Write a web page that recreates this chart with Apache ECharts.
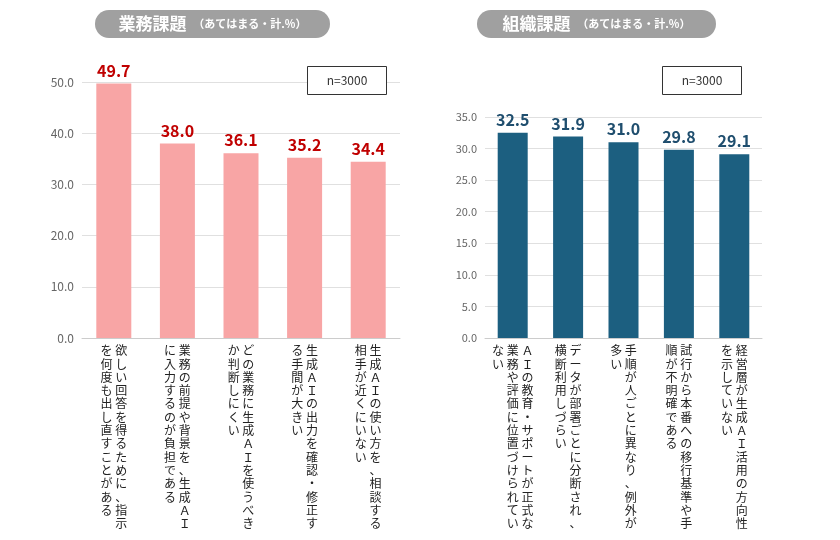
<!DOCTYPE html>
<html lang="ja">
<head>
<meta charset="UTF-8">
<title>業務課題・組織課題</title>
<script src="https://cdn.jsdelivr.net/npm/echarts@6/dist/echarts.min.js"></script>
</head>
<body style="margin:0;background:#fff">
<div id="main" style="width:840px;height:540px;"></div>
<script type="text/javascript">
// データ
var bizCategories = [
    '欲しい回答を得るために、指示を何度も出し直すことがある',
    '業務の前提や背景を、生成ＡＩに入力するのが負担である',
    'どの業務に生成ＡＩを使うべきか判断しにくい',
    '生成ＡＩの出力を確認・修正する手間が大きい',
    '生成ＡＩの使い方を、相談する相手が近くにいない'
];
var bizValues = [49.7, 38.0, 36.1, 35.2, 34.4];
var orgCategories = [
    'ＡＩの教育・サポートが正式な業務や評価に位置づけられていない',
    'データが部署ごとに分断され、横断利用しづらい',
    '手順が人ごとに異なり、例外が多い',
    '試行から本番への移行基準や手順が不明確である',
    '経営層が生成ＡＩ活用の方向性を示していない'
];
var orgValues = [32.5, 31.9, 31.0, 29.8, 29.1];

// 縦書き（右の列から左へ、14文字ずつ）
function tate(s) {
    var chars = Array.from(s), cols = [];
    for (var i = 0; i < chars.length; i += 14) cols.push(chars.slice(i, i + 14));
    var lines = [];
    for (var r = 0; r < 14; r++) {
        var parts = [];
        for (var c = cols.length - 1; c >= 0; c--) parts.push(cols[c][r] || '　');
        lines.push(parts.join(' '));
    }
    return lines.join('\n');
}

var font = '"Noto Sans CJK JP", sans-serif';
var myChart = echarts.init(document.getElementById('main'));

function pill(x, w, title) {
    return {
        type: 'group', left: x, top: 10, z: 100,
        children: [
            { type: 'rect', shape: { x: 0, y: 0, width: w, height: 28, r: 14 }, style: { fill: '#a0a0a0' } },
            { type: 'text', x: w / 2, y: 14, style: {
                text: '{a|' + title + '}  {b|（あてはまる・計.%）}',
                align: 'center', verticalAlign: 'middle',
                rich: {
                    a: { fontSize: 17, fontWeight: 'bold', fill: '#fff', fontFamily: font },
                    b: { fontSize: 11, fontWeight: 'bold', fill: '#fff', fontFamily: font }
                }
            } }
        ]
    };
}
function nBox(x) {
    return {
        type: 'group', left: x, top: 66, z: 100,
        children: [
            { type: 'rect', z: 100, shape: { x: 0, y: 0, width: 79, height: 28 }, style: { fill: '#fff', stroke: '#333', lineWidth: 1 } },
            { type: 'text', z: 101, x: 39.5, y: 14, style: { text: 'n=3000', align: 'center', verticalAlign: 'middle', fontSize: 12, fill: '#333', fontFamily: font } }
        ]
    };
}

var catAxisLabel = {
    interval: 0, formatter: tate, fontSize: 12, lineHeight: 13.3,
    color: '#222', fontFamily: font, verticalAlign: 'top', margin: 6
};

option = {
    animation: false,
    grid: [
        { left: 82, right: 440, top: 82, bottom: 202 },
        { left: 485, right: 78, top: 117, bottom: 202 }
    ],
    xAxis: [
        { gridIndex: 0, type: 'category', data: bizCategories, axisTick: { show: false },
          axisLine: { lineStyle: { color: '#ccc' } }, axisLabel: catAxisLabel },
        { gridIndex: 1, type: 'category', data: orgCategories, axisTick: { show: false },
          axisLine: { lineStyle: { color: '#ccc' } }, axisLabel: catAxisLabel }
    ],
    yAxis: [
        { gridIndex: 0, type: 'value', min: 0, max: 50, interval: 10,
          axisLabel: { formatter: function (v) { return v.toFixed(1); }, color: '#666', fontSize: 12, fontFamily: font },
          splitLine: { lineStyle: { color: '#e0e0e0' } } },
        { gridIndex: 1, type: 'value', min: 0, max: 35, interval: 5,
          axisLabel: { formatter: function (v) { return v.toFixed(1); }, color: '#666', fontSize: 11, fontFamily: font },
          splitLine: { lineStyle: { color: '#e0e0e0' } } }
    ],
    series: [
        { type: 'bar', xAxisIndex: 0, yAxisIndex: 0, data: bizValues, barWidth: 35,
          itemStyle: { color: '#f8a5a5' },
          label: { show: true, position: 'top', color: '#c00000', fontSize: 16, fontWeight: 'bold', fontFamily: font,
                   formatter: function (p) { return p.value.toFixed(1); } } },
        { type: 'bar', xAxisIndex: 1, yAxisIndex: 1, data: orgValues, barWidth: 30,
          itemStyle: { color: '#1c5f80' },
          label: { show: true, position: 'top', color: '#1f4e6e', fontSize: 16, fontWeight: 'bold', fontFamily: font,
                   formatter: function (p) { return p.value.toFixed(1); } } }
    ],
    graphic: [pill(95, 235, '業務課題'), pill(477, 239, '組織課題'), nBox(307), nBox(662)]
};
myChart.setOption(option);
</script>
</body>
</html>
